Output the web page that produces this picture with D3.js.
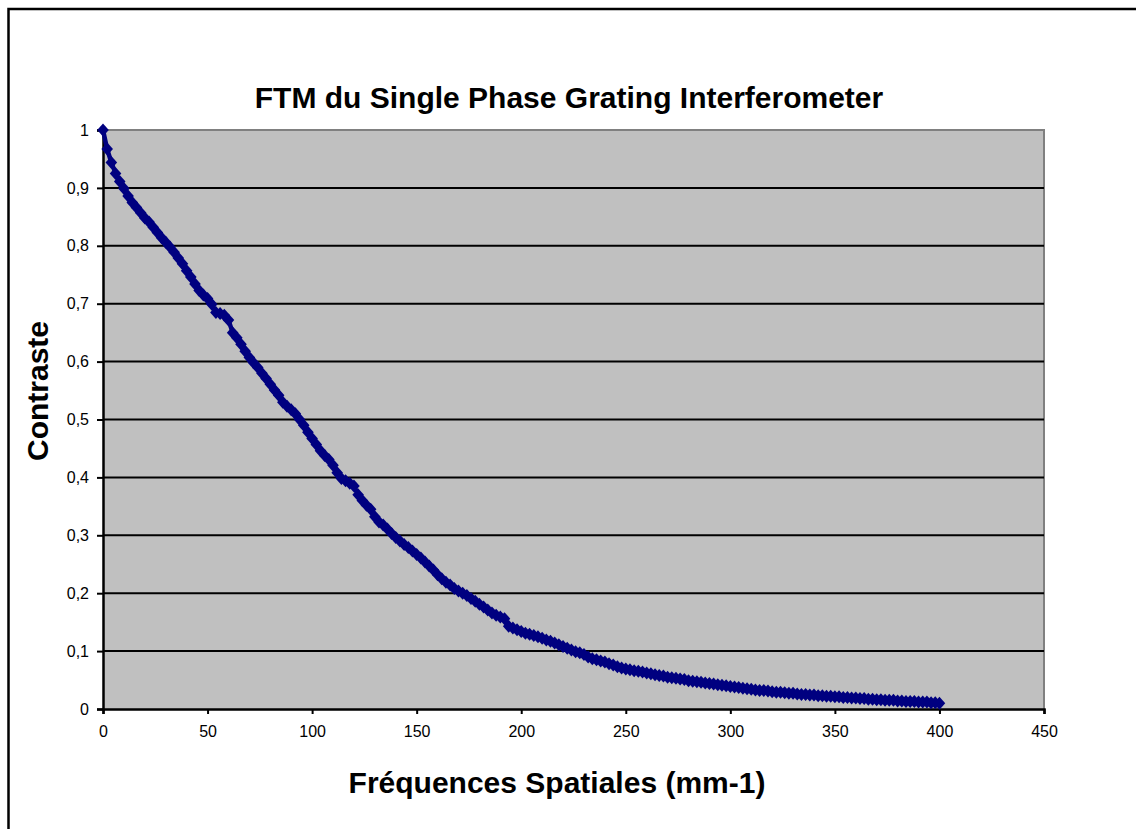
<!DOCTYPE html>
<html>
<head>
<meta charset="utf-8">
<script src="https://cdn.jsdelivr.net/npm/d3@7"></script>
<style>
  body { margin: 0; background: #fff; }
  text { font-family: "Liberation Sans", Arial, sans-serif; }
</style>
</head>
<body>
<div id="chart"></div>
<script>
// fréquences spatiales (mm-1)
const frequences = [
  0, 2, 4, 6, 8, 10, 12, 14, 16, 18, 20, 22, 24, 26, 28, 30, 32, 34, 36, 38,
  40, 42, 44, 46, 48, 50, 52, 54, 56, 58, 60, 62, 64, 66, 68, 70, 72, 74, 76, 78,
  80, 82, 84, 86, 88, 90, 92, 94, 96, 98, 100, 102, 104, 106, 108, 110, 112, 114, 116, 118,
  120, 122, 124, 126, 128, 130, 132, 134, 136, 138, 140, 142, 144, 146, 148, 150, 152, 154, 156, 158,
  160, 162, 164, 166, 168, 170, 172, 174, 176, 178, 180, 182, 184, 186, 188, 190, 192, 194, 196, 198,
  200, 202, 204, 206, 208, 210, 212, 214, 216, 218, 220, 222, 224, 226, 228, 230, 232, 234, 236, 238,
  240, 242, 244, 246, 248, 250, 252, 254, 256, 258, 260, 262, 264, 266, 268, 270, 272, 274, 276, 278,
  280, 282, 284, 286, 288, 290, 292, 294, 296, 298, 300, 302, 304, 306, 308, 310, 312, 314, 316, 318,
  320, 322, 324, 326, 328, 330, 332, 334, 336, 338, 340, 342, 344, 346, 348, 350, 352, 354, 356, 358,
  360, 362, 364, 366, 368, 370, 372, 374, 376, 378, 380, 382, 384, 386, 388, 390, 392, 394, 396, 398,
  400
];

// contraste
const contraste = [
  1.000, 0.967, 0.944, 0.925, 0.911, 0.899, 0.886, 0.875, 0.866, 0.857,
  0.848, 0.841, 0.832, 0.823, 0.814, 0.806, 0.798, 0.789, 0.779, 0.769,
  0.757, 0.746, 0.734, 0.723, 0.715, 0.709, 0.699, 0.685, 0.683, 0.680,
  0.672, 0.650, 0.641, 0.630, 0.618, 0.607, 0.598, 0.590, 0.580, 0.571,
  0.561, 0.551, 0.542, 0.530, 0.523, 0.517, 0.510, 0.500, 0.490, 0.478,
  0.467, 0.457, 0.446, 0.438, 0.431, 0.421, 0.408, 0.398, 0.394, 0.390,
  0.385, 0.370, 0.360, 0.352, 0.345, 0.332, 0.323, 0.318, 0.311, 0.303,
  0.296, 0.290, 0.284, 0.279, 0.273, 0.267, 0.261, 0.254, 0.247, 0.240,
  0.232, 0.225, 0.219, 0.214, 0.208, 0.204, 0.200, 0.196, 0.191, 0.186,
  0.181, 0.176, 0.171, 0.166, 0.162, 0.159, 0.156, 0.143, 0.140, 0.137,
  0.134, 0.131, 0.129, 0.127, 0.125, 0.122, 0.119, 0.117, 0.114, 0.111,
  0.108, 0.105, 0.102, 0.099, 0.097, 0.094, 0.090, 0.087, 0.085, 0.083,
  0.081, 0.078, 0.076, 0.073, 0.071, 0.069, 0.068, 0.066, 0.065, 0.064,
  0.062, 0.061, 0.059, 0.058, 0.057, 0.055, 0.054, 0.053, 0.052, 0.051,
  0.049, 0.048, 0.047, 0.046, 0.045, 0.044, 0.043, 0.042, 0.041, 0.040,
  0.039, 0.038, 0.037, 0.036, 0.035, 0.034, 0.033, 0.032, 0.032, 0.031,
  0.030, 0.029, 0.029, 0.028, 0.027, 0.027, 0.026, 0.025, 0.025, 0.024,
  0.024, 0.023, 0.023, 0.022, 0.022, 0.021, 0.021, 0.020, 0.020, 0.019,
  0.019, 0.018, 0.018, 0.017, 0.017, 0.016, 0.016, 0.015, 0.015, 0.015,
  0.014, 0.014, 0.013, 0.013, 0.013, 0.012, 0.012, 0.012, 0.011, 0.011,
  0.010
];

const xTicks = [0, 50, 100, 150, 200, 250, 300, 350, 400, 450];
const yTicks = [0, 0.1, 0.2, 0.3, 0.4, 0.5, 0.6, 0.7, 0.8, 0.9, 1];

const titre = "FTM du Single Phase Grating Interferometer";
const titreX = "Fréquences Spatiales (mm-1)";
const titreY = "Contraste";

const width = 1136;
const height = 829;
const margin = { top: 130, right: 92, bottom: 120, left: 103 };
const innerWidth = width - margin.left - margin.right;
const innerHeight = height - margin.top - margin.bottom;

const data = frequences.map((f, i) => ({ f: f, c: contraste[i] }));

const svg = d3.select("#chart")
  .append("svg")
  .attr("width", width)
  .attr("height", height);

// cadre du graphique (il déborde à droite et en bas)
svg.append("path")
  .attr("d", `M8.5,${height}V9H${width}`)
  .attr("fill", "none")
  .attr("stroke", "#000")
  .attr("stroke-width", 2.5);

svg.append("text")
  .attr("x", 569)
  .attr("y", 108)
  .attr("text-anchor", "middle")
  .style("font-size", "30px")
  .style("font-weight", "bold")
  .text(titre);

const g = svg.append("g")
  .attr("transform", `translate(${margin.left},${margin.top})`);

const x = d3.scaleLinear().domain([0, 450]).range([0, innerWidth]);
const y = d3.scaleLinear().domain([0, 1]).range([innerHeight, 0]);

// zone de tracé grise
g.append("rect")
  .attr("width", innerWidth)
  .attr("height", innerHeight)
  .attr("fill", "#c0c0c0");

g.append("path")
  .attr("d", `M0,0H${innerWidth}V${innerHeight}`)
  .attr("fill", "none")
  .attr("stroke", "#808080")
  .attr("stroke-width", 2);

// grille horizontale
g.selectAll(".grid")
  .data(yTicks.filter(d => d > 0 && d < 1))
  .enter()
  .append("line")
  .attr("x1", 0)
  .attr("x2", innerWidth)
  .attr("y1", d => y(d))
  .attr("y2", d => y(d))
  .attr("stroke", "#000")
  .attr("stroke-width", 2);

const fmt = d => String(+d.toFixed(1)).replace(".", ",");

// Axe X
const gx = g.append("g")
  .attr("transform", `translate(0,${innerHeight})`)
  .call(d3.axisBottom(x).tickValues(xTicks).tickSize(5).tickPadding(12).tickFormat(d => d));
gx.select(".domain").attr("stroke-width", 2.5);
gx.selectAll(".tick line").attr("stroke-width", 2);
gx.selectAll("text").style("font-size", "16px").attr("fill", "#000")
  .style("font-family", "'Liberation Sans', Arial, sans-serif");

// Axe Y
const gy = g.append("g")
  .call(d3.axisLeft(y).tickValues(yTicks).tickSize(6).tickPadding(8).tickFormat(fmt));
gy.select(".domain").attr("stroke-width", 2.5);
gy.selectAll(".tick line").attr("stroke-width", 2);
gy.selectAll("text").style("font-size", "16px").attr("fill", "#000")
  .style("font-family", "'Liberation Sans', Arial, sans-serif");

// courbe + marqueurs
const line = d3.line().x(d => x(d.f)).y(d => y(d.c));

g.append("path")
  .datum(data)
  .attr("d", line)
  .attr("fill", "none")
  .attr("stroke", "#000080")
  .attr("stroke-width", 4.5);

const diamond = "M0,-6.5L5.8,0L0,6.5L-5.8,0Z";

g.selectAll(".pt")
  .data(data)
  .enter()
  .append("path")
  .attr("d", diamond)
  .attr("transform", d => `translate(${x(d.f)},${y(d.c)})`)
  .attr("fill", "#000080");

// titres des axes
svg.append("text")
  .attr("x", 557)
  .attr("y", 793)
  .attr("text-anchor", "middle")
  .style("font-size", "30px")
  .style("font-weight", "bold")
  .text(titreX);

svg.append("text")
  .attr("transform", "translate(48,391) rotate(-90)")
  .attr("text-anchor", "middle")
  .style("font-size", "30px")
  .style("font-weight", "bold")
  .text(titreY);
</script>
</body>
</html>
